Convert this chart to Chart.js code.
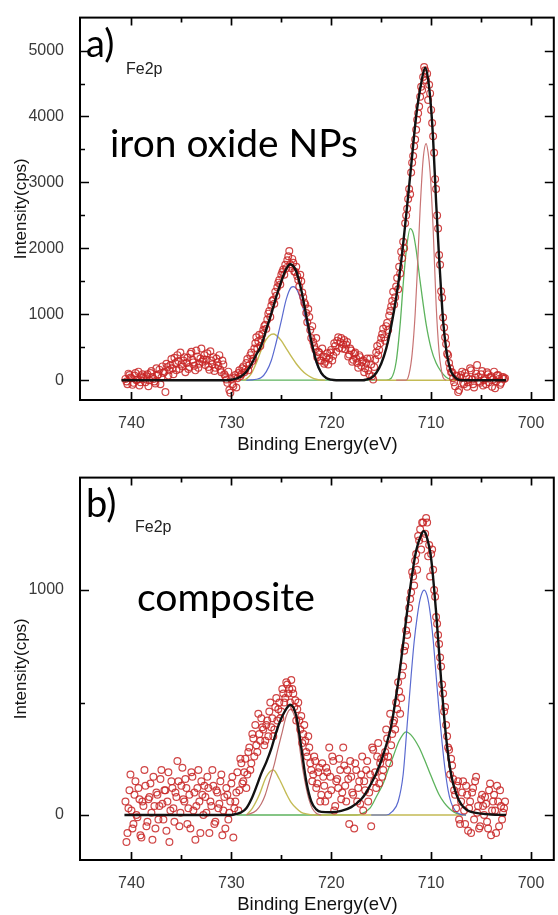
<!DOCTYPE html>
<html>
<head>
<meta charset="utf-8">
<script src="https://cdn.jsdelivr.net/npm/chart.js@4.4.1/dist/chart.umd.min.js"></script>
<style>
  html, body { margin: 0; padding: 0; background: #fff; overflow: hidden; }
  .panel { position: absolute; left: 0; }
</style>
</head>
<body>
<div class="panel" style="top:0"><canvas id="chartA" width="560" height="460"></canvas></div>
<div class="panel" style="top:460px"><canvas id="chartB" width="560" height="460"></canvas></div>
<script>
// binding energy of the measured points (eV), shared by both panels
const energy = [
  740.6,740.4,740.2,740.0,739.8,739.6,739.4,739.2,739.0,738.8,
  738.6,738.4,738.2,738.0,737.8,737.6,737.4,737.2,737.0,736.8,
  736.6,736.4,736.2,736.0,735.8,735.6,735.4,735.2,735.0,734.8,
  734.6,734.4,734.2,734.0,733.8,733.6,733.4,733.2,733.0,732.8,
  732.6,732.4,732.2,732.0,731.8,731.6,731.4,731.2,731.0,730.8,
  730.6,730.4,730.2,730.0,729.8,729.6,729.4,729.2,729.0,728.8,
  728.6,728.4,728.2,728.0,727.8,727.6,727.4,727.2,727.0,726.8,
  726.6,726.4,726.2,726.0,725.8,725.6,725.4,725.2,725.0,724.8,
  724.6,724.4,724.2,724.0,723.8,723.6,723.4,723.2,723.0,722.8,
  722.6,722.4,722.2,722.0,721.8,721.6,721.4,721.2,721.0,720.8,
  720.6,720.4,720.2,720.0,719.8,719.6,719.4,719.2,719.0,718.8,
  718.6,718.4,718.2,718.0,717.8,717.6,717.4,717.2,717.0,716.8,
  716.6,716.4,716.2,716.0,715.8,715.6,715.4,715.2,715.0,714.8,
  714.6,714.4,714.2,714.0,713.8,713.6,713.4,713.2,713.0,712.8,
  712.6,712.4,712.2,712.0,711.8,711.6,711.4,711.2,711.0,710.8,
  710.6,710.4,710.2,710.0,709.8,709.6,709.4,709.2,709.0,708.8,
  708.6,708.4,708.2,708.0,707.8,707.6,707.4,707.2,707.0,706.8,
  706.6,706.4,706.2,706.0,705.8,705.6,705.4,705.2,705.0,704.8,
  704.6,704.4,704.2,704.0,703.8,703.6,703.4,703.2,703.0,702.8,
  702.6
];
// the in-between channels
const energy2 = [
  740.5,740.3,740.1,739.9,739.7,739.5,739.3,739.1,738.9,738.7,
  738.5,738.3,738.1,737.9,737.7,737.5,737.3,737.1,736.9,736.7,
  736.5,736.3,736.1,735.9,735.7,735.5,735.3,735.1,734.9,734.7,
  734.5,734.3,734.1,733.9,733.7,733.5,733.3,733.1,732.9,732.7,
  732.5,732.3,732.1,731.9,731.7,731.5,731.3,731.1,730.9,730.7,
  730.5,730.3,730.1,729.9,729.7,729.5,729.3,729.1,728.9,728.7,
  728.5,728.3,728.1,727.9,727.7,727.5,727.3,727.1,726.9,726.7,
  726.5,726.3,726.1,725.9,725.7,725.5,725.3,725.1,724.9,724.7,
  724.5,724.3,724.1,723.9,723.7,723.5,723.3,723.1,722.9,722.7,
  722.5,722.3,722.1,721.9,721.7,721.5,721.3,721.1,720.9,720.7,
  720.5,720.3,720.1,719.9,719.7,719.5,719.3,719.1,718.9,718.7,
  718.5,718.3,718.1,717.9,717.7,717.5,717.3,717.1,716.9,716.7,
  716.5,716.3,716.1,715.9,715.7,715.5,715.3,715.1,714.9,714.7,
  714.5,714.3,714.1,713.9,713.7,713.5,713.3,713.1,712.9,712.7,
  712.5,712.3,712.1,711.9,711.7,711.5,711.3,711.1,710.9,710.7,
  710.5,710.3,710.1,709.9,709.7,709.5,709.3,709.1,708.9,708.7,
  708.5,708.3,708.1,707.9,707.7,707.5,707.3,707.1,706.9,706.7,
  706.5,706.3,706.1,705.9,705.7,705.5,705.3,705.1,704.9,704.7,
  704.5,704.3,704.1,703.9,703.7,703.5,703.3,703.1,702.9,702.7
];

// a) iron oxide NPs, measured counts (cps)
const countsA = [
  20,-60,80,30,-40,110,10,-80,60,40,
  -30,90,0,140,20,-50,70,160,40,110,
  -180,200,150,320,90,260,380,170,240,300,
  120,340,200,430,270,150,360,250,480,310,
  230,410,160,300,350,190,270,380,120,240,
  60,-40,-150,20,-90,80,30,150,90,210,
  160,320,230,420,330,560,480,690,620,760,
  840,920,1050,1130,1220,1340,1410,1520,1600,1680,
  1750,1820,1960,1700,1780,1640,1580,1420,1500,1260,
  1150,880,960,640,580,470,350,420,300,360,
  280,410,330,460,370,520,600,490,640,540,
  470,580,390,450,310,420,260,380,220,300,
  180,330,90,240,10,310,520,460,640,780,
  600,870,980,1120,1340,1260,1550,1720,1950,2100,
  2380,2600,2900,3150,3400,3650,3950,4150,4450,4600,
  4700,4650,4480,4100,3700,3050,2500,1900,1350,950,
  650,400,260,120,30,-90,60,-150,80,-40,
  110,-100,20,150,-60,40,230,-20,90,-80,
  30,120,-30,60,10,-120,70,20,-40,50,
  30
];
const countsA2 = [
  -20,100,40,-70,70,0,130,-30,90,20,
  60,-90,110,50,-20,180,90,-60,210,130,
  250,70,230,180,340,150,290,420,210,350,
  260,170,400,310,220,450,190,330,280,380,
  310,200,440,240,140,330,220,160,300,90,
  10,130,-190,-60,40,-110,110,60,180,120,
  260,150,380,290,480,650,590,520,700,820,
  780,1010,960,1200,1160,1280,1480,1450,1640,1600,
  1700,1880,1760,1840,1650,1720,1520,1600,1330,1180,
  1020,1080,760,820,520,640,430,300,480,250,
  350,240,420,300,560,430,650,580,480,610,
  540,360,480,280,400,330,190,350,280,120,
  260,150,330,60,200,420,380,560,700,650,
  820,760,1050,1200,1150,1420,1380,1620,1850,2000,
  2500,2750,2820,3300,3550,3800,4050,4300,4400,4750,
  4550,4250,4350,3900,3450,2900,2300,1750,1250,800,
  550,380,180,120,-30,70,-180,40,130,-60,
  60,-30,180,10,-110,100,50,-40,140,0,
  -60,90,40,-100,130,-20,80,-70,40,20
];

// b) composite, measured counts (cps)
const countsB = [
  60,-80,110,20,-40,150,-10,70,-100,40,
  130,-30,80,10,170,-60,90,40,200,-20,
  110,60,-120,150,30,100,240,-50,130,70,
  160,-40,90,190,20,-110,120,60,150,0,
  80,170,-80,40,130,-30,100,50,180,20,
  -60,90,10,140,-100,60,190,110,230,150,
  250,180,300,230,340,400,280,360,430,380,
  330,420,460,390,350,480,420,500,460,540,
  520,580,560,600,540,510,470,420,440,360,
  330,260,300,200,180,240,140,210,90,170,
  60,190,300,110,240,40,160,250,70,300,
  130,200,-40,170,90,230,60,150,180,20,
  110,240,100,-50,290,190,260,140,250,200,
  280,340,230,310,410,380,470,550,520,660,
  750,800,920,990,1060,1130,1090,1220,1180,1300,
  1250,1300,1200,1160,1090,970,850,760,660,540,
  480,350,290,250,160,90,130,-20,60,150,
  -40,90,30,-80,120,150,10,-60,70,40,
  80,-30,110,-90,60,20,130,-50,40,10,
  60
];
const countsB2 = [
  -120,30,180,-60,90,0,120,-90,60,200,
  -50,70,140,-110,40,100,-20,160,50,110,
  -70,190,20,120,-30,80,150,10,210,60,
  120,30,-60,170,100,40,200,-80,90,130,
  10,120,60,200,-40,110,30,150,-90,80,
  120,-20,60,170,30,100,20,250,140,190,
  120,280,200,360,260,310,450,330,390,310,
  400,350,500,430,380,520,470,430,560,500,
  590,540,500,560,480,420,500,380,320,400,
  280,350,230,150,260,120,190,60,230,130,
  210,90,170,260,20,150,120,200,100,220,
  60,160,240,100,-60,200,120,50,260,150,
  200,60,180,300,150,120,320,230,170,260,
  380,260,450,360,420,500,590,450,620,730,
  820,870,960,1080,1020,1160,1240,1270,1300,1230,
  1320,1150,1060,1180,1000,880,800,700,580,460,
  400,300,180,220,110,30,150,-40,100,20,
  130,-70,60,100,-20,170,40,-50,90,0,
  50,-60,140,20,90,-80,60,110,-20,30
];

// fitted envelopes and components, [eV, cps]
const fitA = [[741,0],[730.5,0],[730,8],[729.5,25],[729,60],[728.5,130],[728,240],[727.5,390],[727,530],
  [726.5,770],[726,1010],[725.5,1270],[725,1500],[724.5,1690],[724.1,1760],[723.5,1650],[723,1370],
  [722.5,980],[722,600],[721.5,290],[721,110],[720.5,35],[720,8],[719.5,0],[716.8,0],[716.5,10],
  [716,35],[715.5,110],[715,250],[714.5,480],[714,820],[713.5,1250],[713,1800],[712.5,2500],
  [712,3250],[711.5,4000],[711,4500],[710.6,4740],[710.3,4560],[710,4120],[709.8,3650],[709.5,2700],
  [709.2,1850],[709,1350],[708.8,900],[708.5,480],[708.2,230],[708,130],[707.5,30],[707,0],[702.5,0]];
const oliveA = [[728.8,0],[728.5,20],[728,100],[727.5,260],[727,460],[726.5,620],[726,695],[725.8,700],
  [725.5,680],[725,600],[724.5,480],[724,360],[723.5,250],[723,160],[722.5,90],[722,45],[721.5,15],
  [721,3],[720.6,0],[718,null],[715.6,0],[707.2,0]];
const blueA = [[728.5,0],[728,5],[727.5,15],[727,40],[726.5,130],[726,300],[725.5,580],[725,900],
  [724.5,1230],[724,1410],[723.8,1420],[723.5,1390],[723,1200],[722.5,880],[722,540],[721.5,260],
  [721,100],[720.5,30],[720,5],[719.5,0]];
const greenA = [[729.3,0],[714.5,0],[714,30],[713.5,280],[713.1,850],[712.8,1450],[712.5,1950],
  [712.1,2300],[711.8,2230],[711.5,1980],[711.1,1500],[710.5,850],[710,480],[709.5,260],[709,130],
  [708.5,45],[708,10],[707.5,0]];
const pinkA = [[713.5,0],[712.5,0],[712.2,100],[711.9,400],[711.6,1000],[711.4,1600],[711.1,2600],
  [710.8,3350],[710.5,3590],[710.3,3450],[710.1,3150],[709.8,2300],[709.5,1150],[709.2,420],
  [709,180],[708.8,40],[708.5,0]];

const fitB = [[740.7,0],[730,0],[729.5,5],[729,12],[728.5,30],[728,70],[727.5,125],[727,185],[726.5,235],
  [726,295],[725.5,370],[725,430],[724.5,472],[724.1,490],[723.5,440],[723,300],[722.5,150],[722,60],
  [721.5,25],[721,14],[720,12],[719,18],[718,35],[717,70],[716.5,100],[716,140],[715.5,185],[715,240],
  [714.5,310],[714,395],[713.5,530],[713,690],[712.5,870],[712,1040],[711.5,1175],[711,1245],
  [710.75,1262],[710.5,1245],[710,1140],[709.5,900],[709,600],[708.5,345],[708,180],[707.5,95],
  [707,48],[706.5,25],[706,14],[705,6],[704,2],[702.5,0]];
const pinkB = [[728.5,0],[727.5,20],[727,50],[726.6,90],[726.2,150],[725.7,225],[725.3,300],[724.9,370],
  [724.5,440],[724.1,470],[723.8,455],[723.5,410],[723.1,280],[722.8,190],[722.5,120],[722.2,65],
  [721.9,30],[721.5,8],[721,0]];
const oliveB = [[728.5,0],[727.9,30],[727.2,90],[726.5,170],[725.8,200],[725.2,160],[724.5,95],[724,55],
  [723.5,30],[723,12],[722.5,5],[721.8,0],[706.8,0]];
const blueB = [[716,0],[714.5,0],[713.9,15],[713.3,60],[712.8,180],[712.4,400],[712,620],[711.7,770],
  [711.4,880],[711.1,960],[710.7,1000],[710.4,975],[710.1,900],[709.8,780],[709.5,620],[709.2,460],
  [708.9,320],[708.6,200],[708.3,110],[708,55],[707.6,20],[707.2,5],[706.5,0]];
const greenB = [[729.5,0],[717.5,0],[717.1,3],[716.1,32],[715.5,80],[714.8,140],[714.2,215],[713.8,260],
  [713.2,330],[712.5,370],[712,355],[711.2,300],[710.7,250],[710.2,195],[709.7,140],[709.2,90],
  [708.7,55],[708.2,30],[707.7,12],[707.2,3],[706.5,0]];

// axis ticks
const xTicks = [700,705,710,715,720,725,730,735,740];
const yTicksA = [0,500,1000,1500,2000,2500,3000,3500,4000,4500,5000];
const yTicksB = [0,500,1000];

const xTitle = 'Binding Energy(eV)';
const yTitle = 'Intensity(cps)';

const frameTicks = {
  id: 'frameTicks',
  afterDraw(chart, args, o) {
    const {ctx, chartArea: a, scales: {x, y}} = chart;
    ctx.save();
    ctx.strokeStyle = '#000';
    ctx.lineWidth = 2;
    ctx.strokeRect(a.left, a.top, a.right - a.left - 1, a.bottom - a.top);
    ctx.lineWidth = 1.7;
    ctx.beginPath();
    xTicks.forEach(v => {
      const px = Math.round(x.getPixelForValue(v)) + 0.5;
      const len = v % 10 === 0 ? 8 : 5;
      ctx.moveTo(px, a.bottom); ctx.lineTo(px, a.bottom - len);
      ctx.moveTo(px, a.top); ctx.lineTo(px, a.top + len);
    });
    o.yTicks.forEach(v => {
      const py = Math.round(y.getPixelForValue(v)) + 0.5;
      const len = v % 1000 === 0 ? 9 : 5;
      ctx.moveTo(a.left, py); ctx.lineTo(a.left + len, py);
      ctx.moveTo(a.right - 1, py); ctx.lineTo(a.right - 1 - len, py);
    });
    ctx.stroke();

    ctx.fillStyle = '#000';
    ctx.textBaseline = 'alphabetic';
    ctx.font = '38px Lato';
    ctx.fillText(o.tag, a.left + 6, a.top + 39);
    ctx.fillStyle = '#222';
    ctx.font = '16px "Liberation Sans"';
    ctx.fillText(o.line, o.lineX, a.top + o.lineY);
    ctx.fillStyle = '#000';
    ctx.font = '38px Lato';
    const size = 38 * o.nameW / ctx.measureText(o.name).width;
    ctx.font = size.toFixed(1) + 'px Lato';
    ctx.fillText(o.name, o.nameX, a.top + o.nameY);
    ctx.restore();
  }
};

function pts(xs, ys) {
  return xs.map((e, i) => ({x: e, y: ys[i]}));
}

function scatterSet(xs, ys) {
  return {
    data: pts(xs, ys), showLine: false, pointStyle: 'circle', pointRadius: 3.4, pointBorderWidth: 1.2,
    pointBorderColor: 'rgba(200,38,38,0.85)', pointBackgroundColor: 'rgba(0,0,0,0)', order: 2
  };
}

function curve(pairs, color, width, order) {
  return {
    data: pairs.map(p => ({x: p[0], y: p[1]})), showLine: true, pointRadius: 0, borderColor: color,
    borderWidth: width, cubicInterpolationMode: 'monotone', order: order
  };
}

function makeChart(id, datasets, yMin, yMax, yTicks, labels) {
  return new Chart(document.getElementById(id), {
    type: 'scatter',
    data: { datasets: datasets },
    options: {
      responsive: false,
      animation: false,
      events: [],
      layout: { padding: { top: 14, right: 0, bottom: 0, left: 0 } },
      plugins: {
        legend: { display: false },
        tooltip: { enabled: false },
        frameTicks: Object.assign({ yTicks: yTicks }, labels)
      },
      scales: {
        x: {
          type: 'linear', reverse: true, min: 697.62, max: 745.15,
          afterBuildTicks: s => { s.ticks = xTicks.map(v => ({value: v})); },
          afterFit: s => { s.height = 60; },
          grid: { display: false }, border: { display: false },
          ticks: {
            autoSkip: false, maxRotation: 0, padding: 6, color: '#3a3a3a',
            font: { family: '"Liberation Sans", Arial', size: 16 },
            callback: v => (v % 10 === 0 ? String(v) : '')
          },
          title: {
            display: true, text: xTitle, color: '#111',
            font: { family: '"Liberation Sans", Arial', size: 18.5 },
            padding: { top: 0, bottom: 4 }
          }
        },
        y: {
          type: 'linear', min: yMin, max: yMax,
          afterBuildTicks: s => { s.ticks = yTicks.map(v => ({value: v})); },
          afterFit: s => { s.width = 80; },
          grid: { display: false }, border: { display: false },
          ticks: {
            autoSkip: false, padding: 8, color: '#3a3a3a',
            font: { family: '"Liberation Sans", Arial', size: 16 },
            callback: v => (v % 1000 === 0 ? String(v) : '')
          },
          title: {
            display: true, text: yTitle, color: '#111',
            font: { family: '"Liberation Sans", Arial', size: 17 },
            padding: { top: 11, bottom: 0 }
          }
        }
      }
    },
    plugins: [frameTicks]
  });
}

makeChart('chartA', [
  scatterSet(energy, countsA),
  scatterSet(energy2, countsA2),
  curve(fitA, '#111', 2.4, 0),
  curve(pinkA, '#c87474', 1.2, 3),
  curve(blueA, '#5a6ad0', 1.2, 3),
  curve(oliveA, '#c4bb55', 1.4, 3),
  curve(greenA, '#5db35d', 1.3, 4)
], -300, 5500, yTicksA,
  { tag: 'a)', line: 'Fe2p', lineX: 126, lineY: 56, name: 'iron oxide NPs', nameX: 110, nameY: 139, nameW: 248 });

makeChart('chartB', [
  scatterSet(energy, countsB),
  scatterSet(energy2, countsB2),
  curve(fitB, '#111', 2.4, 0),
  curve(pinkB, '#c07070', 1.2, 3),
  curve(blueB, '#5a6ad0', 1.2, 3),
  curve(oliveB, '#c4bb55', 1.4, 3),
  curve(greenB, '#5db35d', 1.3, 4)
], -200, 1500, yTicksB,
  { tag: 'b)', line: 'Fe2p', lineX: 135, lineY: 54, name: 'composite', nameX: 137, nameY: 133, nameW: 178 });
</script>
</body>
</html>
